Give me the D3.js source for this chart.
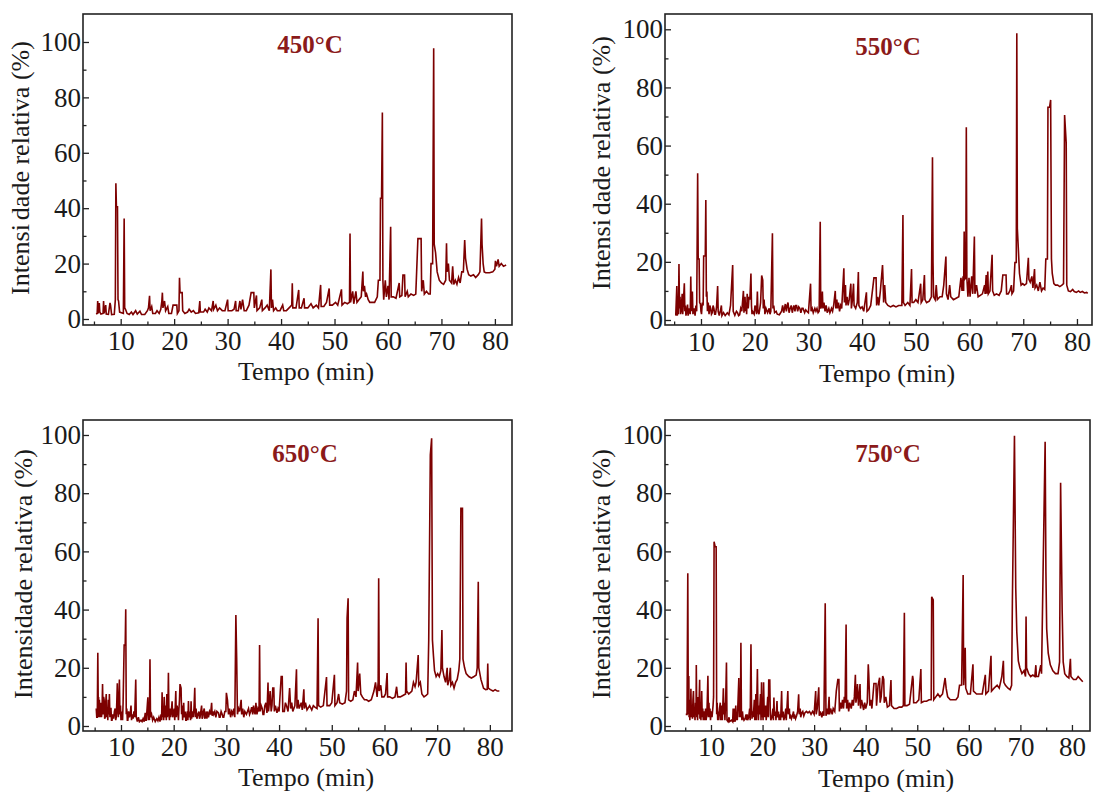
<!DOCTYPE html>
<html><head><meta charset="utf-8">
<script src="https://cdn.jsdelivr.net/npm/d3@7"></script>
<style>
body{margin:0;background:#fff;}
svg{display:block;}
text{font-family:"Liberation Serif","Times New Roman",serif;}
</style></head>
<body>
<svg id="chart" width="1097" height="792"></svg>
<script>
// ---------------- DATA ----------------
const titles = ["450\u00B0C", "550\u00B0C", "650\u00B0C", "750\u00B0C"];
const xLabel = "Tempo (min)";
const yLabel = "Intensidade relativa (%)";
const xMajorTicks = [10, 20, 30, 40, 50, 60, 70, 80];
const xMinorTicks = [5, 15, 25, 35, 45, 55, 65, 75];
const yMajorTicks = [0, 20, 40, 60, 80, 100];
const yMinorTicks = [10, 30, 50, 70, 90];

// [time (min), relative intensity (%)]
const trace450 = [[5.4,1.8],[5.6,2],[5.7,6.5],[5.8,2],[6.0,5.8],[6.1,2.5],[6.3,1.8],[6.7,2],[6.8,6.5],[6.9,2],[7.2,5],[7.3,1.8],[7.7,1.7],[8.0,5.8],[8.1,5],[8.3,1.6],[8.8,1.7],[9.0,7],[9.1,49],[9.2,40.5],[9.4,40.5],[9.5,7],[9.6,6.5],[9.8,2.5],[10.5,2],[10.65,36.3],[10.75,4],[10.9,3.5],[11.2,2],[11.6,1.6],[12,2.5],[12.3,1.6],[12.8,3],[13.1,1.8],[13.6,2.8],[13.9,1.6],[14.5,1.6],[15,3],[15.2,4],[15.4,8.4],[15.5,3],[15.8,4.5],[16,2],[16.5,2],[16.8,3],[17.2,2],[17.5,3.5],[17.7,6.5],[17.8,9.5],[17.9,4],[18.2,6.5],[18.4,3],[18.8,4.5],[19.0,2],[19.5,2],[19.8,5],[20.5,5],[20.6,2],[20.9,3],[21.0,14.9],[21.1,9.5],[21.5,9.5],[21.6,3],[22,2],[22.5,2.5],[22.8,3.5],[23.2,2.5],[23.6,3],[24,2],[24.6,2.2],[24.8,6.5],[24.9,2.5],[25.5,2.5],[25.8,3.5],[26.2,2.5],[26.5,4],[27.0,3],[27.3,6.5],[27.4,3.5],[27.8,5],[28.1,3],[28.5,4],[29,3],[29.5,3],[30.0,7],[30.1,3],[30.8,3],[31.2,3.5],[31.5,6.5],[31.6,3],[32,3],[32.3,6.5],[32.5,3.5],[32.8,7],[33.1,3],[33.5,3],[34.0,5],[34.4,9.5],[34.9,9.5],[35.0,4],[35.4,8.5],[35.5,3],[36,4],[36.4,7],[36.5,3],[37,4],[37.4,5],[37.8,3],[38.1,17.9],[38.2,4],[38.4,7],[38.6,3],[39,4],[39.3,3],[39.8,3],[40.3,5],[40.5,3],[41,3],[41.5,4],[42.0,5],[42.1,12.9],[42.2,4],[42.8,4],[43.3,10.5],[43.4,4],[43.8,4],[44.3,7.5],[44.4,4],[45,4],[45.6,5.5],[46,4],[46.6,5],[47.0,4],[47.4,12.3],[47.5,4.5],[48,4.5],[48.5,6],[49.0,11],[49.1,5],[49.6,5],[50.2,6],[50.6,5],[51.3,10.7],[51.4,5],[51.9,6],[52.4,5.5],[52.8,6],[52.9,30.9],[53.0,6],[53.4,10],[53.6,5.5],[54.0,10],[54.2,6],[54.6,7],[55.0,8],[55.3,17.1],[55.4,10],[55.6,12],[55.8,8],[56.0,9],[56.3,7],[56.6,6],[57,6],[57.5,6],[58.0,8],[58.2,14],[58.5,14],[58.6,43.6],[58.8,43.6],[58.95,74.5],[59.05,14],[59.2,7],[59.5,14],[59.7,8],[60.0,12],[60.2,7],[60.5,33.3],[60.6,8],[61,8],[61.5,7.5],[62.1,13],[62.2,8],[62.6,8.5],[62.8,15.9],[63.1,15.9],[63.2,8],[63.6,10],[63.8,8],[64.3,9],[64.8,8.5],[65.2,9],[65.6,29],[66.2,29],[66.3,10],[66.6,14],[66.8,9],[67.2,10],[67.6,9],[67.9,9],[68.05,20],[68.35,20],[68.55,97.7],[68.65,27],[68.9,24],[69.2,17],[69.6,14],[70,13],[70.4,12.5],[70.8,14],[70.95,27.3],[71.05,17],[71.3,20],[71.5,14],[71.9,13],[72.1,19],[72.3,12.5],[72.6,14],[72.9,12.5],[73.2,15],[73.5,13],[73.8,17],[74.1,17],[74.35,28.5],[74.5,22],[74.8,18],[75.1,16],[75.5,15.5],[76,16],[76.4,15],[76.9,16],[77.2,17],[77.5,36.3],[77.6,27],[77.8,20],[78.0,17],[78.3,16.7],[79,16.7],[79.6,17],[80.0,18],[80.1,21],[80.3,19],[80.6,21.5],[80.8,19],[81.2,20],[81.6,19],[82.1,19.5]];

const trace550 = [[5.3,1.5],[5.5,11.7],[5.6,1.5],[5.7,6],[5.8,2],[5.9,19.3],[6.0,4],[6.1,8],[6.2,2],[6.3,3],[6.4,6],[6.5,9],[6.6,2],[6.75,7],[6.9,12.6],[7.0,3],[7.1,5],[7.2,1.5],[7.35,3],[7.5,5.3],[7.6,1.5],[7.8,4],[8.0,2],[8.1,15],[8.2,3],[8.3,6],[8.4,9.8],[8.5,2],[8.7,4],[8.9,1.5],[9.05,5],[9.2,3],[9.38,50.5],[9.48,21],[9.65,21],[9.75,6],[9.9,5.5],[10.0,3],[10.1,2],[10.25,6],[10.4,5],[10.5,22],[10.8,22],[10.9,41.3],[11.0,8],[11.1,9.8],[11.2,3],[11.35,6],[11.5,2],[11.65,5],[11.8,4],[11.95,2],[12.1,2.5],[12.25,5],[12.4,4],[12.55,2],[12.7,2],[12.9,4.5],[13.1,11.7],[13.2,3],[13.4,1.5],[13.6,3],[13.8,5],[13.9,1.5],[14.2,2.5],[14.5,1.5],[14.9,2.5],[15.2,1.8],[15.5,5],[15.9,18.9],[16.0,3],[16.3,1.6],[16.6,3],[16.8,2.5],[17.0,1.5],[17.2,1.8],[17.4,4],[17.6,3],[17.9,10],[18.0,2.5],[18.1,6],[18.2,8],[18.3,3],[18.4,6],[18.5,2],[18.6,9],[18.8,4],[18.95,8],[19.1,7],[19.3,16],[19.4,5],[19.5,2],[19.6,3],[19.9,2],[20.05,5],[20.2,4],[20.35,2],[20.5,9.8],[20.6,3],[20.8,2],[21.1,6],[21.3,15.3],[21.5,13.7],[21.6,4],[21.75,7],[21.9,2],[22.1,4],[22.4,2.5],[22.7,4],[22.85,2],[23.0,3],[23.3,29.8],[23.4,4],[23.55,5],[23.7,2.5],[24.0,3],[24.2,2],[24.6,1.8],[25.0,3],[25.2,5],[25.4,2.5],[25.55,4],[25.7,5.5],[25.9,3],[26.05,5],[26.2,6],[26.4,2.5],[26.6,4],[26.8,5],[27.0,2.5],[27.15,4],[27.3,5],[27.5,3],[27.65,5],[27.8,5],[28.0,3],[28.2,4.5],[28.4,4],[28.6,2.5],[28.8,4],[29.0,4],[29.3,2.5],[29.5,3.5],[29.7,3],[30.0,2.5],[30.4,12.5],[30.5,3],[30.7,4],[30.9,2.5],[31.2,4],[31.4,3],[31.6,4],[31.8,2.5],[32.0,3],[32.2,33.8],[32.3,4],[32.5,5],[32.6,9.8],[32.7,4],[32.9,6],[33.1,3],[33.3,5],[33.5,2.5],[33.8,4],[34.0,2.5],[34.3,4],[34.5,3],[34.7,5],[35.0,10],[35.1,4],[35.3,7],[35.4,4],[35.6,6],[35.8,3],[36.0,5],[36.2,4],[36.6,17.8],[36.7,6],[36.9,12],[37.0,5],[37.2,8],[37.4,5],[37.6,7],[37.9,12.5],[38.0,4],[38.2,7],[38.4,12.5],[38.5,5],[38.8,4],[39.1,6],[39.3,16.5],[39.4,5],[39.7,4],[40.0,4.5],[40.3,3],[40.8,9.5],[40.9,3],[41.2,3.5],[41.6,5],[42.2,14.5],[42.6,14.5],[42.7,5],[42.9,8],[43.1,5],[43.4,10],[43.8,18.9],[43.9,14],[44.0,6],[44.2,12],[44.4,6],[44.8,5],[45.3,4.5],[45.8,5],[46.3,4.5],[46.8,5],[47.4,5],[47.6,36.1],[47.7,6],[48.0,5],[48.5,6],[48.9,5],[49.2,17.5],[49.3,6],[49.6,6],[50.0,7],[50.4,6],[50.9,12.5],[51.0,6],[51.3,7],[51.6,15.5],[51.7,7],[52.0,6],[52.5,6.5],[52.9,8],[53.1,56],[53.2,20],[53.3,8],[53.6,7],[53.8,12],[54.0,7],[54.5,8],[54.9,8],[55.2,12],[55.6,21.8],[55.7,9],[56.0,7],[56.3,12],[56.5,8],[57.0,7],[57.5,7.5],[58.0,8],[58.4,14.5],[58.6,10],[58.8,15],[58.9,10],[59.0,30.4],[59.1,14],[59.3,14.5],[59.4,66.3],[59.5,14.5],[59.7,8],[59.9,14.5],[60.1,8],[60.4,15],[60.6,9],[60.9,28.7],[61.0,9],[61.3,12],[61.6,8],[62.0,8.5],[62.4,9],[62.8,12],[62.9,9],[63.1,15.5],[63.2,9],[63.4,16.7],[63.5,9],[63.8,10],[64.2,22.4],[64.3,10],[64.6,8.5],[65.0,9],[65.5,8.5],[65.9,10],[66.2,15.5],[66.8,15.5],[66.9,9],[67.2,9],[67.5,10],[67.8,12],[67.9,9],[68.2,10],[68.45,19.8],[68.7,19.8],[68.8,98.6],[68.9,31.5],[69.1,24],[69.3,16],[69.6,12],[69.9,12.5],[70.2,12],[70.6,12.5],[70.95,21.4],[71.05,14],[71.3,13],[71.6,15],[71.8,11],[72.1,17.5],[72.2,11],[72.5,12],[72.8,10],[73.1,13],[73.4,10],[73.7,11],[74.0,10.5],[74.2,21],[74.5,21],[74.6,73.2],[74.9,73.2],[75.1,75.7],[75.25,21],[75.4,16],[75.7,12.5],[76.0,12],[76.4,12],[76.8,11.5],[77.2,12],[77.5,12.5],[77.7,70.5],[78.0,60.8],[78.1,12],[78.4,10],[78.8,9.8],[79.2,10.5],[79.5,9.8],[79.9,9.5],[80.3,10],[80.6,9.5],[81.0,9.8],[81.4,9.3],[81.8,9.5],[82.0,9.2]];

const trace650 = [[5.3,6],[5.4,3],[5.5,3],[5.6,25.2],[5.7,4],[5.75,10],[5.8,3],[5.9,9],[6.0,3],[6.1,7],[6.2,8],[6.3,3],[6.4,5],[6.5,14.4],[6.6,4],[6.7,10],[6.8,9],[6.9,2.5],[7.0,3],[7.1,8],[7.2,11],[7.3,3],[7.4,6],[7.5,2],[7.6,9],[7.7,4],[7.8,11],[7.9,3],[8.0,6],[8.1,6],[8.2,2],[8.3,2],[8.45,4],[8.6,2.5],[8.75,5],[8.9,6],[9.0,2],[9.1,3],[9.2,8],[9.3,14.7],[9.4,5],[9.5,3],[9.6,9],[9.7,16],[9.8,4],[9.9,7],[10.0,2],[10.1,3],[10.2,5],[10.3,2],[10.4,8],[10.6,27.8],[10.8,27.8],[10.9,40.1],[11.0,4],[11.1,6],[11.2,2],[11.3,2],[11.45,5],[11.6,3],[11.75,4],[11.9,7],[12.0,2],[12.15,4],[12.3,2.5],[12.45,5],[12.6,3],[12.8,16],[12.9,3],[13.1,1.5],[13.3,3],[13.5,1.5],[13.8,2],[14.0,1.5],[14.2,2.5],[14.4,1.5],[14.6,4.5],[14.7,2],[14.8,2],[14.95,6],[15.1,9.9],[15.2,2],[15.3,4],[15.4,2],[15.5,22.9],[15.6,3],[15.8,4],[16.0,2],[16.2,3],[16.5,1.5],[16.8,2.5],[17.0,1.8],[17.2,3],[17.4,1.5],[17.6,4],[17.7,2],[17.8,11.6],[17.9,3],[18.0,6],[18.1,2],[18.2,10],[18.3,4],[18.4,3],[18.5,7],[18.6,2],[18.7,11],[18.8,3],[18.9,6],[19.0,18.3],[19.1,4],[19.2,2],[19.3,6],[19.4,3],[19.55,5],[19.7,8.5],[19.8,3],[19.95,4],[20.1,6],[20.2,2],[20.3,7],[20.4,12],[20.5,3],[20.65,7],[20.8,5],[20.9,2],[21.0,6],[21.1,9],[21.2,14.4],[21.4,13],[21.5,4],[21.6,7],[21.7,2],[21.9,8],[22.0,3],[22.2,5],[22.3,2],[22.4,2],[22.6,5],[22.7,2],[22.8,8.6],[22.9,3],[23.1,5],[23.2,2],[23.3,8.5],[23.4,2.5],[23.55,5],[23.7,3],[23.85,6],[24.0,13.1],[24.1,3],[24.25,6],[24.4,2.5],[24.6,4],[24.8,5],[24.9,2.5],[25.0,3],[25.15,5],[25.3,7],[25.4,2.5],[25.5,3],[25.65,5],[25.8,6],[25.9,2.5],[26.0,3],[26.2,5],[26.3,2.5],[26.4,5],[26.6,3],[26.8,5],[27.0,4],[27.2,8],[27.3,3.5],[27.45,5],[27.6,4],[27.8,5],[28.0,3],[28.2,5],[28.5,4.5],[28.65,3],[28.8,3],[29.0,5],[29.2,4],[29.35,3],[29.5,3],[29.7,5],[29.9,5],[30.0,11.4],[30.2,9],[30.4,4],[30.6,6],[30.8,3],[31.0,5],[31.2,4],[31.4,6],[31.6,3],[31.8,38.1],[31.95,23.6],[32.1,4],[32.3,6],[32.5,5],[32.8,9],[32.9,4],[33.1,6],[33.3,3],[33.5,5],[33.8,4],[34.0,5],[34.2,6],[34.4,4],[34.6,5],[34.8,6.5],[35.0,4],[35.15,7],[35.3,5],[35.45,4],[35.6,8],[35.8,4],[36.0,6],[36.2,5],[36.3,27.8],[36.4,5],[36.6,7],[36.8,6],[36.95,4],[37.1,4],[37.3,7],[37.5,8],[37.7,4.5],[37.9,14.9],[38.0,5],[38.15,8],[38.3,12],[38.5,5],[38.65,7],[38.8,13],[39.0,13],[39.1,5],[39.3,7],[39.6,4.5],[39.8,6],[40.0,5],[40.4,17],[40.6,17],[40.7,5],[41.0,5],[41.2,8],[41.4,7],[41.7,5],[42.0,13],[42.2,6],[42.4,8],[42.6,5],[43.0,7],[43.3,19.5],[43.4,6],[43.6,9],[43.8,6],[44.2,8],[44.4,5.5],[44.7,12.6],[44.8,6],[45.0,8],[45.3,5.5],[45.8,7],[46.2,5.5],[46.5,7],[46.8,6.5],[47.2,6],[47.4,37],[47.5,7],[47.9,6.5],[48.4,7],[49.0,16.8],[49.1,7],[49.6,7],[50.0,8],[50.5,17.6],[50.6,7],[51.0,8],[51.3,11],[51.5,8],[52.0,7.5],[52.5,8],[52.8,12],[52.9,37],[53.1,43.9],[53.2,9],[53.6,8.5],[54.0,9],[54.3,12],[54.6,10],[54.9,21.8],[55.0,12],[55.3,18],[55.5,11],[55.8,10],[56.2,9],[56.6,9],[57.0,8.5],[57.5,9],[58.0,12],[58.3,15],[58.6,10],[58.8,15],[58.9,50.8],[59.0,12],[59.3,14],[59.5,10],[59.9,10],[60.2,11],[60.5,18.2],[60.6,10],[61.0,10],[61.5,9.5],[62.0,10],[62.3,13.5],[62.5,10],[63.0,10],[63.5,10.5],[64.0,11],[64.1,21.8],[64.2,12],[64.6,11],[65.2,12],[65.5,15],[65.8,13.5],[66.0,15],[66.4,24.4],[66.5,14],[66.8,15],[67.1,11],[67.5,10],[67.9,10.5],[68.2,11],[68.4,29.6],[68.7,93.1],[68.95,98.9],[69.1,29.6],[69.3,24],[69.5,19],[69.8,17],[70.1,18],[70.4,17],[70.7,19],[70.9,33],[71.0,20],[71.3,17],[71.6,15],[71.9,20],[72.0,14],[72.3,16],[72.5,20],[72.6,14],[72.9,15],[73.2,13],[73.5,15],[73.8,16],[74.1,19],[74.3,23],[74.5,74.8],[74.8,74.8],[74.9,23],[75.2,20],[75.5,18],[76.0,17],[76.5,16.5],[77.0,17],[77.4,17.5],[77.6,20],[77.8,49.6],[77.9,20],[78.3,16],[78.8,13],[79.2,12.5],[79.5,12.6],[79.6,21.5],[79.7,13],[80.1,12.5],[80.6,12],[81.0,12.5],[81.4,12],[81.8,12]];

const trace750 = [[5.1,4],[5.35,4],[5.5,52.5],[5.6,4],[5.65,10],[5.7,17.2],[5.75,3],[5.85,8],[5.9,2],[6.0,9],[6.05,4],[6.1,12.8],[6.2,3],[6.3,7],[6.4,2.5],[6.5,9],[6.6,12],[6.7,3],[6.8,6],[6.9,2],[7.0,8],[7.1,4],[7.15,21],[7.25,3],[7.3,7],[7.4,2],[7.5,10],[7.6,4],[7.7,9],[7.8,15.9],[7.85,2.5],[7.95,7],[8.05,2],[8.2,12],[8.3,3],[8.4,6],[8.5,2],[8.65,5],[8.8,2],[8.95,6],[9.05,2],[9.2,4],[9.3,10],[9.4,17.3],[9.5,3],[9.6,8],[9.7,3],[9.8,6],[9.9,2],[10.05,5],[10.2,3],[10.4,7],[10.5,10],[10.6,63.3],[10.8,61.6],[11.0,61.6],[11.1,4],[11.2,8],[11.3,2],[11.4,5],[11.5,2],[11.65,6],[11.8,8],[11.9,2],[12.0,3],[12.1,7],[12.2,2],[12.4,13],[12.5,4],[12.6,8],[12.7,2],[12.85,9],[13.0,21.8],[13.1,2],[13.3,1.5],[13.5,3],[13.6,1.5],[14.0,2],[14.2,1.5],[14.3,6],[14.4,1.5],[14.5,2],[14.6,6],[14.7,1.5],[14.8,7],[14.9,2],[15.0,4],[15.1,2],[15.25,9],[15.4,16.5],[15.5,3],[15.6,9],[15.7,3],[15.8,28.6],[15.9,4],[16.0,2],[16.1,5],[16.2,3],[16.4,2],[16.6,2.5],[16.8,4],[16.9,2],[17.0,4],[17.1,2],[17.3,3],[17.5,6],[17.6,2],[17.75,28.1],[17.85,8],[17.95,2.5],[18.1,5],[18.2,3],[18.4,9],[18.5,2],[18.6,4],[18.7,11],[18.8,2],[19.0,19.6],[19.1,6],[19.2,2],[19.3,7],[19.4,4],[19.6,11],[19.7,2],[19.8,15],[19.9,3],[20.0,5],[20.1,2],[20.2,15],[20.3,6],[20.4,3],[20.6,7],[20.7,2],[20.8,4],[21.0,10],[21.1,3],[21.2,15.8],[21.4,15.8],[21.5,4],[21.6,2],[21.8,3],[22.0,6],[22.1,2],[22.2,9.8],[22.3,3.5],[22.5,5],[22.6,2],[22.8,8.6],[22.9,3],[23.1,5],[23.2,2],[23.4,4],[23.5,2],[23.7,12],[23.8,3],[24.0,5],[24.1,2],[24.3,3],[24.5,6],[24.6,2],[24.9,12],[25.0,4],[25.2,6],[25.3,2.5],[25.4,4],[25.6,2.5],[25.8,3.5],[26.0,5],[26.1,2.5],[26.2,4],[26.4,2.5],[26.6,3.5],[26.8,5],[27.0,10.9],[27.1,4],[27.3,6],[27.4,3],[27.6,4.5],[27.8,5],[28.0,3.5],[28.2,4.5],[28.5,5],[28.8,4.5],[29.1,5],[29.4,4],[29.7,5],[30.0,4],[30.3,12],[30.4,4],[30.6,6],[30.9,13.3],[31.0,3.5],[31.2,5],[31.5,3],[31.7,5],[31.9,3.5],[32.15,42.2],[32.3,3.5],[32.5,6],[32.7,4],[32.9,10],[33.0,4],[33.2,6],[33.5,4],[33.7,6],[34.0,5],[34.3,12],[34.6,16],[34.8,16],[34.9,5],[35.1,8],[35.3,6],[35.5,9],[35.7,6],[35.85,10],[36.0,8],[36.2,34.9],[36.3,6],[36.5,9],[36.7,5],[36.9,8],[37.2,6],[37.4,9],[37.6,7],[37.8,10],[38.0,17.6],[38.1,8],[38.25,10],[38.4,14.4],[38.6,7],[38.9,14.4],[39.0,6],[39.2,9],[39.6,5.5],[39.8,8],[40.0,6],[40.3,8],[40.5,21.2],[40.6,17.5],[40.8,7],[41.0,9],[41.2,6],[41.6,14.6],[42.0,14.6],[42.1,7],[42.4,14],[42.7,16.6],[42.8,8],[43.0,10],[43.3,17.2],[43.5,16],[43.6,8],[43.9,10],[44.2,6.5],[44.6,7],[44.9,15.8],[45.0,7],[45.5,6],[46.0,6],[46.5,6.5],[47.0,6.5],[47.3,7],[47.5,38.9],[47.6,7],[48.0,7],[48.5,7.5],[49.1,17.2],[49.2,16],[49.3,8],[49.8,8],[50.3,9],[50.7,19.6],[50.8,8],[51.3,8.5],[51.8,8.5],[52.3,9],[52.7,9],[52.8,44.4],[53.1,43.3],[53.2,9],[53.6,10],[54.0,11],[54.4,10],[54.9,11],[55.4,16.5],[55.6,13],[55.9,10],[56.4,9],[57.0,9],[57.5,9],[57.9,10],[58.2,14],[58.6,14.1],[58.9,51.9],[59.0,14],[59.3,26.9],[59.4,13],[59.8,11],[60.3,11],[60.8,21.2],[60.9,12],[61.5,11],[62.0,11],[62.6,11],[63.2,17.6],[63.3,11],[63.8,12],[64.3,24.1],[64.4,12],[64.9,13],[65.5,14],[65.9,13],[66.4,17],[66.7,22.4],[66.8,15],[67.1,14],[67.6,13],[68.0,12.5],[68.3,14],[68.45,43.3],[68.85,99.7],[69.1,47.3],[69.3,32.4],[69.6,22.4],[69.9,20],[70.3,18],[70.7,19],[71.0,17],[71.1,37.6],[71.2,20],[71.6,18],[72.0,17],[72.4,17.5],[72.8,17],[73.0,20.9],[73.1,17],[73.5,17],[73.95,20.9],[74.1,18],[74.4,53],[74.8,97.7],[74.95,53],[75.1,33.3],[75.4,25],[75.8,21],[76.3,19],[76.8,18],[77.3,18],[77.6,22],[77.8,83.6],[78.1,39.9],[78.3,22],[78.6,18],[79.0,17],[79.4,16.5],[79.7,23.1],[79.8,17],[80.3,16],[80.8,16],[81.2,17],[81.7,16],[82.1,15.2]];

const traces = [trace450, trace550, trace650, trace750];

// ---------------- LAYOUT ----------------
const layout = [
  {L:83,  R:512,  T:14,  B:325, xDom:[2.95,83.2], yDom:[-2.17,110.1],
   title:[310,53], xt:[306,380], yt:[29,168], xPad:6, split:true},
  {L:665, R:1092, T:14,  B:325, xDom:[3.3,82.8], yDom:[-1.72,105.26],
   title:[888,55], xt:[887,382], yt:[610,163], xPad:7, split:true},
  {L:83,  R:512,  T:420, B:731, xDom:[2.79,84.2], yDom:[-1.72,105.15],
   title:[305,462], xt:[306,786], yt:[32,574], xPad:6, split:false},
  {L:665, R:1090, T:420, B:731, xDom:[1.08,83.5], yDom:[-1.72,105.15],
   title:[888,462], xt:[886,787], yt:[610,574], xPad:6, split:false}
];

const lineColor = "#7d0000";
const titleColor = "#8b1a1a";
const axisColor = "#222";
const textColor = "#1a1a1a";

const svg = d3.select("#chart");

layout.forEach((p, i) => {
  const x = d3.scaleLinear().domain(p.xDom).range([p.L, p.R]);
  const y = d3.scaleLinear().domain(p.yDom).range([p.B, p.T]);
  const g = svg.append("g");

  const cid = "clip" + i;
  g.append("clipPath").attr("id", cid).append("rect")
    .attr("x", p.L).attr("y", p.T).attr("width", p.R - p.L).attr("height", p.B - p.T);

  const line = d3.line().x(d => x(d[0])).y(d => y(d[1]));
  g.append("path").datum(traces[i])
    .attr("clip-path", `url(#${cid})`)
    .attr("d", line)
    .attr("fill", "none")
    .attr("stroke", lineColor)
    .attr("stroke-width", 1.6)
    .attr("stroke-linejoin", "miter");

  const xAx = g.append("g").attr("transform", `translate(0,${p.B})`)
    .call(d3.axisBottom(x).tickValues(xMajorTicks).tickSize(-6).tickPadding(p.xPad));
  const xAxMinor = g.append("g").attr("transform", `translate(0,${p.B})`)
    .call(d3.axisBottom(x).tickValues(xMinorTicks).tickSize(-3.5).tickFormat(""));
  const yAx = g.append("g").attr("transform", `translate(${p.L},0)`)
    .call(d3.axisLeft(y).tickValues(yMajorTicks).tickSize(-6).tickPadding(2));
  const yAxMinor = g.append("g").attr("transform", `translate(${p.L},0)`)
    .call(d3.axisLeft(y).tickValues(yMinorTicks).tickSize(-3.5).tickFormat(""));

  [xAx, xAxMinor, yAx, yAxMinor].forEach(a => {
    a.select(".domain").remove();
    a.selectAll("line").attr("stroke", axisColor).attr("stroke-width", 1.3);
    a.selectAll("text").attr("fill", textColor)
      .style("font-family", '"Liberation Serif","Times New Roman",serif')
      .style("font-size", "27px");
  });

  g.append("rect").attr("x", p.L).attr("y", p.T)
    .attr("width", p.R - p.L).attr("height", p.B - p.T)
    .attr("fill", "none").attr("stroke", axisColor).attr("stroke-width", 1.6);

  g.append("text").attr("x", p.title[0]).attr("y", p.title[1])
    .attr("text-anchor", "middle").attr("fill", titleColor)
    .style("font-size", "25px").style("font-weight", "bold")
    .text(titles[i]);

  g.append("text").attr("x", p.xt[0]).attr("y", p.xt[1])
    .attr("text-anchor", "middle").attr("fill", textColor)
    .style("font-size", "26px").text(xLabel);

  const yl = g.append("text")
    .attr("transform", `translate(${p.yt[0]},${p.yt[1]}) rotate(-90)`)
    .attr("text-anchor", "middle").attr("fill", textColor)
    .style("font-size", "26px");
  if (p.split) {
    const k = 7;
    yl.append("tspan").text(yLabel.slice(0, k));
    yl.append("tspan").attr("dx", 4).text(yLabel.slice(k));
  } else {
    yl.text(yLabel);
  }
});
</script>
</body></html>
